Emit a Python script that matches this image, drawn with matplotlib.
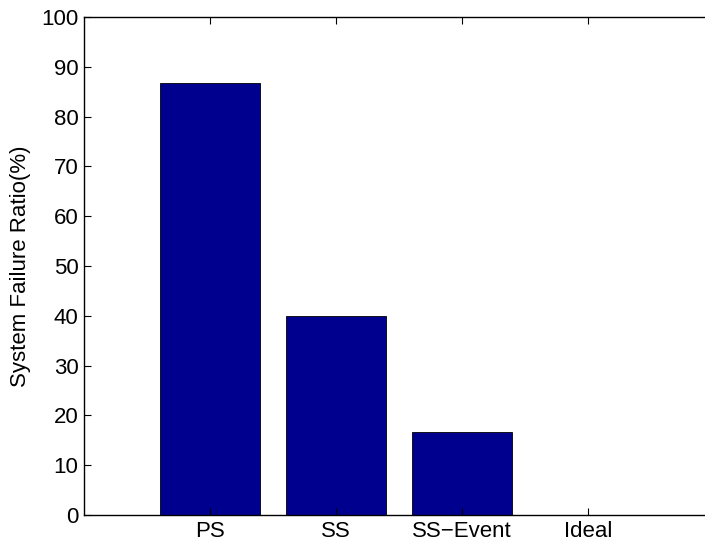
import matplotlib
matplotlib.use("Agg")
from matplotlib import pyplot as plt

# dados do gráfico
categorias = ["PS", "SS", "SS\u2212Event", "Ideal"]
valores = [86.67, 40.0, 16.67, 0.0]

plt.rcParams['font.family'] = ['Liberation Sans', 'DejaVu Sans']

fig = plt.figure(figsize=(7.05, 5.48), dpi=100)
# eixo vai além da borda direita (figura recortada)
ax = fig.add_axes([84 / 705, 33 / 548, 630 / 705, 498 / 548])

pos = list(range(1, len(categorias) + 1))
ax.bar(pos, valores, width=0.8, color='#00008F', edgecolor='black', linewidth=0.6)

ax.set_xlim(0, 5)
ax.set_ylim(0, 100)
ax.set_xticks(pos)
ax.set_xticklabels(categorias)
ax.set_yticks(range(0, 101, 10))
ax.tick_params(direction='in', top=True, right=False, labelsize=16, length=5, width=0.8, pad=4)
for s in ax.spines.values():
    s.set_linewidth(1.0)
ax.spines['right'].set_visible(False)
ax.set_ylabel("System Failure Ratio(%)", fontsize=16, labelpad=7)

fig.savefig("out.png", dpi=100)
